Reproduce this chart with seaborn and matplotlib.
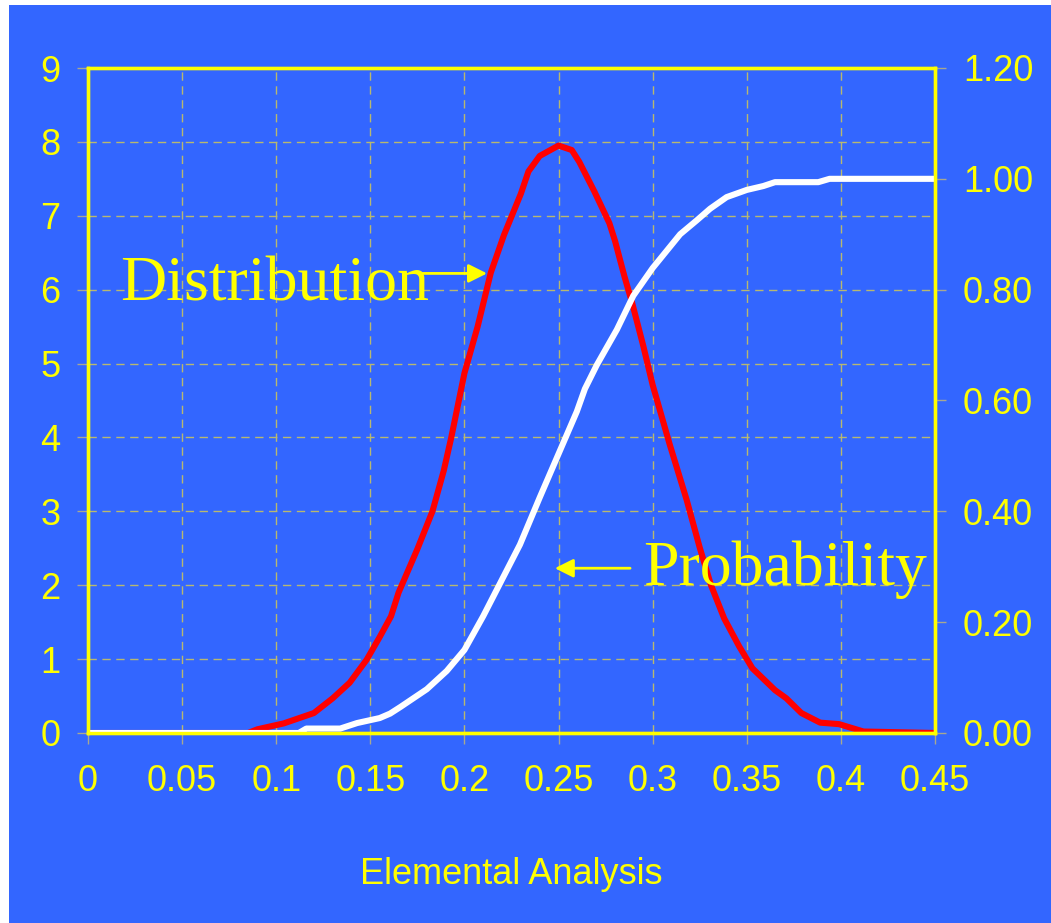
import matplotlib
matplotlib.use("Agg")
import matplotlib.pyplot as plt
from matplotlib.patches import Rectangle
import seaborn as sns
import pandas as pd

# values
dist_x = [0.0, 0.085, 0.09, 0.104, 0.12, 0.13, 0.139, 0.148, 0.155, 0.161, 0.165,
          0.175, 0.183, 0.189, 0.193, 0.200, 0.207, 0.214, 0.221, 0.230, 0.234,
          0.240, 0.250, 0.257, 0.261, 0.269, 0.277, 0.280, 0.285, 0.289, 0.295,
          0.300, 0.309, 0.318, 0.325, 0.331, 0.338, 0.346, 0.353, 0.365, 0.371,
          0.379, 0.389, 0.399, 0.412, 0.45]
dist_y = [0.0, 0.0, 0.05, 0.13, 0.27, 0.47, 0.68, 0.99, 1.30, 1.58, 1.90,
          2.49, 3.00, 3.55, 4.00, 4.87, 5.50, 6.23, 6.74, 7.30, 7.60,
          7.81, 7.95, 7.89, 7.73, 7.33, 6.90, 6.66, 6.18, 5.83, 5.24,
          4.71, 3.91, 3.16, 2.51, 2.00, 1.55, 1.17, 0.875, 0.58, 0.47,
          0.27, 0.14, 0.12, 0.02, 0.0]

prob_x = [0.0, 0.112, 0.116, 0.134, 0.143, 0.155, 0.1605, 0.166, 0.180, 0.1906,
          0.200, 0.210, 0.2295, 0.240, 0.2508, 0.2597, 0.264, 0.2703, 0.281,
          0.2897, 0.300, 0.3146, 0.3234, 0.3305, 0.3393, 0.350, 0.3588, 0.365,
          0.388, 0.394, 0.45]
prob_y = [0.0, 0.0, 0.008, 0.008, 0.018, 0.027, 0.035, 0.047, 0.079, 0.112,
          0.15, 0.211, 0.34, 0.425, 0.51, 0.58, 0.621, 0.664, 0.728,
          0.789, 0.839, 0.900, 0.925, 0.946, 0.967, 0.980, 0.987, 0.994,
          0.994, 1.0, 1.0]

x_ticks = [0, 0.05, 0.1, 0.15, 0.2, 0.25, 0.3, 0.35, 0.4, 0.45]
x_labels = ["0", "0.05", "0.1", "0.15", "0.2", "0.25", "0.3", "0.35", "0.4", "0.45"]
left_ticks = list(range(10))
right_ticks = [0.0, 0.2, 0.4, 0.6, 0.8, 1.0, 1.2]

blue = "#3366FF"
yellow = "#FFFF00"
grid_col = "#B8B870"
tick_col = "#A8A890"

plt.rcParams["font.family"] = ["Liberation Sans", "DejaVu Sans"]

fig = plt.figure(figsize=(10.51, 9.23), dpi=100)
fig.patch.set_facecolor("white")
fig.patches.append(Rectangle((9 / 1051, 0), 1, 1 - 5 / 923, transform=fig.transFigure,
                             facecolor=blue, edgecolor="none", zorder=-10))

ax = fig.add_axes([88 / 1051, 190 / 923, 847 / 1051, 665 / 923])
ax.set_facecolor(blue)

dist = pd.DataFrame({"x": dist_x, "y": dist_y})
prob = pd.DataFrame({"x": prob_x, "y": prob_y})

sns.lineplot(data=dist, x="x", y="y", ax=ax, color="#FF0000", linewidth=4.4, sort=False,
             solid_joinstyle="round", solid_capstyle="round")
ax.set_xlim(0, 0.45)
ax.set_ylim(0, 9)
ax.set_xticks(x_ticks)
ax.set_xticklabels(x_labels)
ax.set_yticks(left_ticks)
ax.grid(True, color=grid_col, lw=1.0, linestyle=(0, (6, 4)))
ax.set_axisbelow(True)

ax2 = ax.twinx()
sns.lineplot(data=prob, x="x", y="y", ax=ax2, color="white", linewidth=4.4, sort=False,
             solid_joinstyle="round", solid_capstyle="round")
ax2.set_ylim(0, 1.2)
ax2.set_yticks(right_ticks)
ax2.set_yticklabels([f"{v:.2f}" for v in right_ticks])
ax2.set_xlim(0, 0.45)

for a in (ax, ax2):
    a.set_ylabel("")
    for s in a.spines.values():
        s.set_color(yellow)
        s.set_linewidth(2.4)
    a.tick_params(axis="both", colors=tick_col, labelcolor=yellow, labelsize=26,
                  length=8, width=1, direction="out")
ax.tick_params(axis="y", pad=12)
ax2.tick_params(axis="y", pad=12)
ax.tick_params(axis="x", pad=14)

ax.set_xlabel("Elemental Analysis", color=yellow, fontsize=26, labelpad=42)

serif = ["Liberation Serif", "DejaVu Serif"]
ax2.text(0.017, 5.86, "Distribution", transform=ax.transData, family=serif,
         fontsize=46, color=yellow, va="baseline", ha="left", zorder=10)
ax2.annotate("", xy=(0.212, 6.22), xytext=(0.1764, 6.22),
             xycoords=ax.transData, textcoords=ax.transData, zorder=10,
             arrowprops=dict(arrowstyle="-|>", color=yellow, lw=2, mutation_scale=28,
                             shrinkA=0, shrinkB=0))
ax2.text(0.295, 2.0, "Probability", transform=ax.transData, family=serif,
         fontsize=46, color=yellow, va="baseline", ha="left", zorder=10)
ax2.annotate("", xy=(0.248, 2.23), xytext=(0.288, 2.23),
             xycoords=ax.transData, textcoords=ax.transData, zorder=10,
             arrowprops=dict(arrowstyle="-|>", color=yellow, lw=2, mutation_scale=28,
                             shrinkA=0, shrinkB=0))

fig.savefig("out.png", dpi=100, facecolor=fig.get_facecolor())
